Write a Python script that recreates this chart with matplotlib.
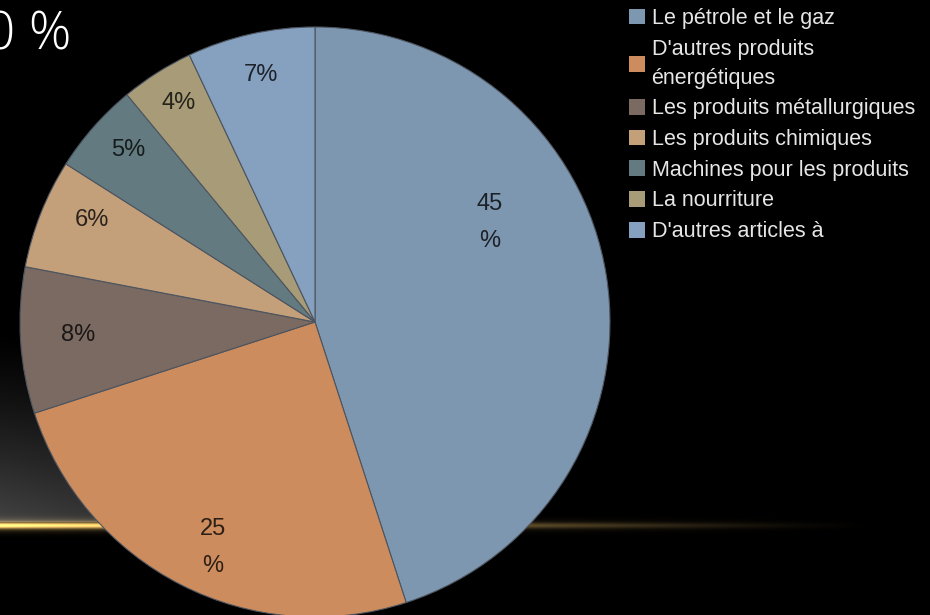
import numpy as np
import matplotlib
matplotlib.use('Agg')
import matplotlib.pyplot as plt
from matplotlib.patches import Patch
import matplotlib.colors as mcolors

# chart data
categories = ['Le pétrole et le gaz',
              "D'autres produits\nénergétiques",
              'Les produits métallurgiques',
              'Les produits chimiques',
              'Machines pour les produits',
              'La nourriture',
              "D'autres articles à"]
shares = [45, 25, 8, 6, 5, 4, 7]
pct_labels = ['45\n%', '25\n%', '8%', '6%', '5%', '4%', '7%']
colors = ['#7e97b0', '#cd8c5e', '#7a6a62', '#c4a07a', '#637b80', '#a89c78', '#86a0bf']

# where the labels sit inside each slice (fraction of radius, angle shift in deg)
label_r = [0.68, 0.84, 0.805, 0.83, 0.86, 0.875, 0.857]
label_shift = [20.7, 2.6, -0.5, -3.0, -1.2, -0.4, -0.3]

W, H = 930, 615
fig = plt.figure(figsize=(W / 100, H / 100), dpi=100, facecolor='black')

# background: dark grey glow on the lower left and a golden streak
bg = fig.add_axes([0, 0, 1, 1])
yy, xx = np.mgrid[0:H, 0:W].astype(float)
grey = np.clip((yy - 330) / 190, 0, 1) ** 1.3 * 0.26
grey *= np.clip(1 - xx / 520, 0, 1)
grey[yy > 521] = 0
streak = np.exp(-((yy - 525) / 2.8) ** 2) + 0.35 * np.exp(-((yy - 525) / 6) ** 2)
streak *= np.clip(1 - xx / 880, 0, 1) ** 1.4
gold = np.array([0.96, 0.78, 0.42])
img = grey[..., None] * np.ones(3) + streak[..., None] * gold
bg.imshow(np.clip(img, 0, 1), extent=[0, W, H, 0], aspect='auto')
bg.set_xlim(0, W)
bg.set_ylim(H, 0)
bg.axis('off')

# pie axes: centre (315, 322), radius 295 px
cx, cy, r = 315, 322, 295
ax = fig.add_axes([(cx - r) / W, (H - cy - r) / H, 2 * r / W, 2 * r / H])
ax.set_facecolor('none')
wedges, _ = ax.pie(shares, colors=colors, startangle=90, counterclock=False,
                   radius=1, wedgeprops=dict(edgecolor='#4d5560', linewidth=0.8))
ax.set_xlim(-1, 1)
ax.set_ylim(-1, 1)
ax.axis('off')

for w, txt, lr, sh, c in zip(wedges, pct_labels, label_r, label_shift, colors):
    ang = np.deg2rad((w.theta1 + w.theta2) / 2 + sh)
    dark = np.array(mcolors.to_rgb(c)) * 0.22
    ax.text(lr * np.cos(ang), lr * np.sin(ang), txt, ha='center', va='center',
            fontsize=17, family='Liberation Sans', color=dark, linespacing=1.9)

# legend on the right
handles = [Patch(facecolor=c, edgecolor='none') for c in colors]
leg = fig.legend(handles, categories, loc='upper left',
                 bbox_to_anchor=(629 / W, 1 - 8 / H), frameon=False,
                 prop=dict(family='Liberation Sans', size=15.5),
                 labelcolor='#e6e6e6', handlelength=0.75, handleheight=0.75,
                 handletextpad=0.3, labelspacing=0.45, borderaxespad=0, borderpad=0)
for t in leg.get_texts():
    t.set_linespacing(1.5)

# cut-off title text at the top left
fig.text(71 / W, 1 - 36 / H, '0 %', ha='right', va='center', color='white',
         fontsize=38, family='Open Sans', fontweight='light')

fig.savefig('out.png', dpi=100, facecolor='black')
